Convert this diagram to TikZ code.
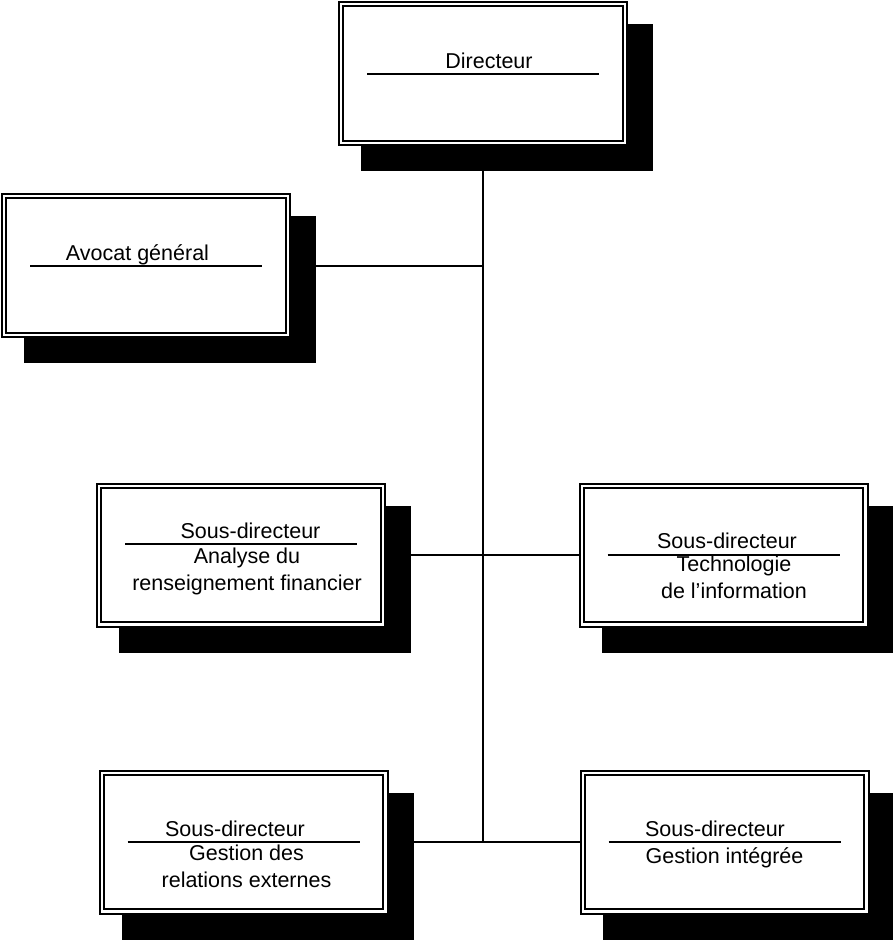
\documentclass[tikz,border=0pt]{standalone}
\usepackage{fontspec}
\setmainfont{Liberation Sans}
\usetikzlibrary{backgrounds,calc}

\begin{document}
\begin{tikzpicture}[
    x=0.5pt, y=-0.5pt,
    box/.style={rectangle, draw, fill=white, double, double distance=1.2pt, line width=1pt, minimum width=141.8pt, minimum height=69.3pt, inner sep=0pt},
    shadowbox/.style={fill=black},
    seprule/.style={line width=1pt},
    conn/.style={line width=1pt},
    headtext/.style={anchor=base, font=\fontsize{10.75}{13.25}\selectfont, inner sep=0pt},
    subtext/.style={anchor=base, align=center, font=\fontsize{10.75}{13.25}\selectfont, inner sep=0pt}
]
\useasboundingbox (0,0) rectangle (893,942);

% Top of the chart
\node[box] (dir) at (483, 73.5) {};
\node[box] (avocat) at (146, 265.5) {};
\node[headtext] (dirhead) at (489, 68) {Directeur};
\node[headtext] (avocathead) at (137.5, 260) {Avocat général};

% Sous-directeurs
\node[box] (analyse) at (241, 555) {};
\node[box] (techno) at (723.5, 555) {};
\node[box] (relext) at (243.5, 842) {};
\node[box] (integ) at (724.5, 842) {};

% (base of a two-line text is its last line)
\node[headtext] (analysehead) at (250.5, 538) {Sous-directeur};
\node[subtext] (analysesub) at (247, 590) {Analyse du\\renseignement financier};
\node[headtext] (technohead) at (727, 548) {Sous-directeur};
\node[subtext] (technosub) at (734, 598) {Technologie\\de l’information};
\node[headtext] (relexthead) at (235, 836) {Sous-directeur};
\node[subtext] (relextsub) at (246.5, 887) {Gestion des\\relations externes};
\node[headtext] (integhead) at (715, 836) {Sous-directeur};
\node[subtext] (integsub) at (724.5, 863) {Gestion intégrée};

% Rules under the titles
\foreach \b/\dy in {dir/0, avocat/0, analyse/-11, techno/0, relext/0, integ/0}
    \draw[seprule] ($(\b)+(-116,\dy)$) -- ($(\b)+(116,\dy)$);

\coordinate (trunkend) at (483, 842);

\begin{scope}[on background layer]
% Connectors
\draw[conn] (dir) -- (trunkend);
\draw[conn] (avocat) -- (avocat -| trunkend);
\draw[conn] (analyse) -- (techno);
\draw[conn] (relext) -- (integ);
% Shadows
\foreach \b in {dir, avocat, analyse, techno, relext, integ}
    \fill[shadowbox] ([shift={(20.8,27.2)}]\b.south west) rectangle ([shift={(27.2,20.8)}]\b.north east);
\end{scope}

\end{tikzpicture}
\end{document}
